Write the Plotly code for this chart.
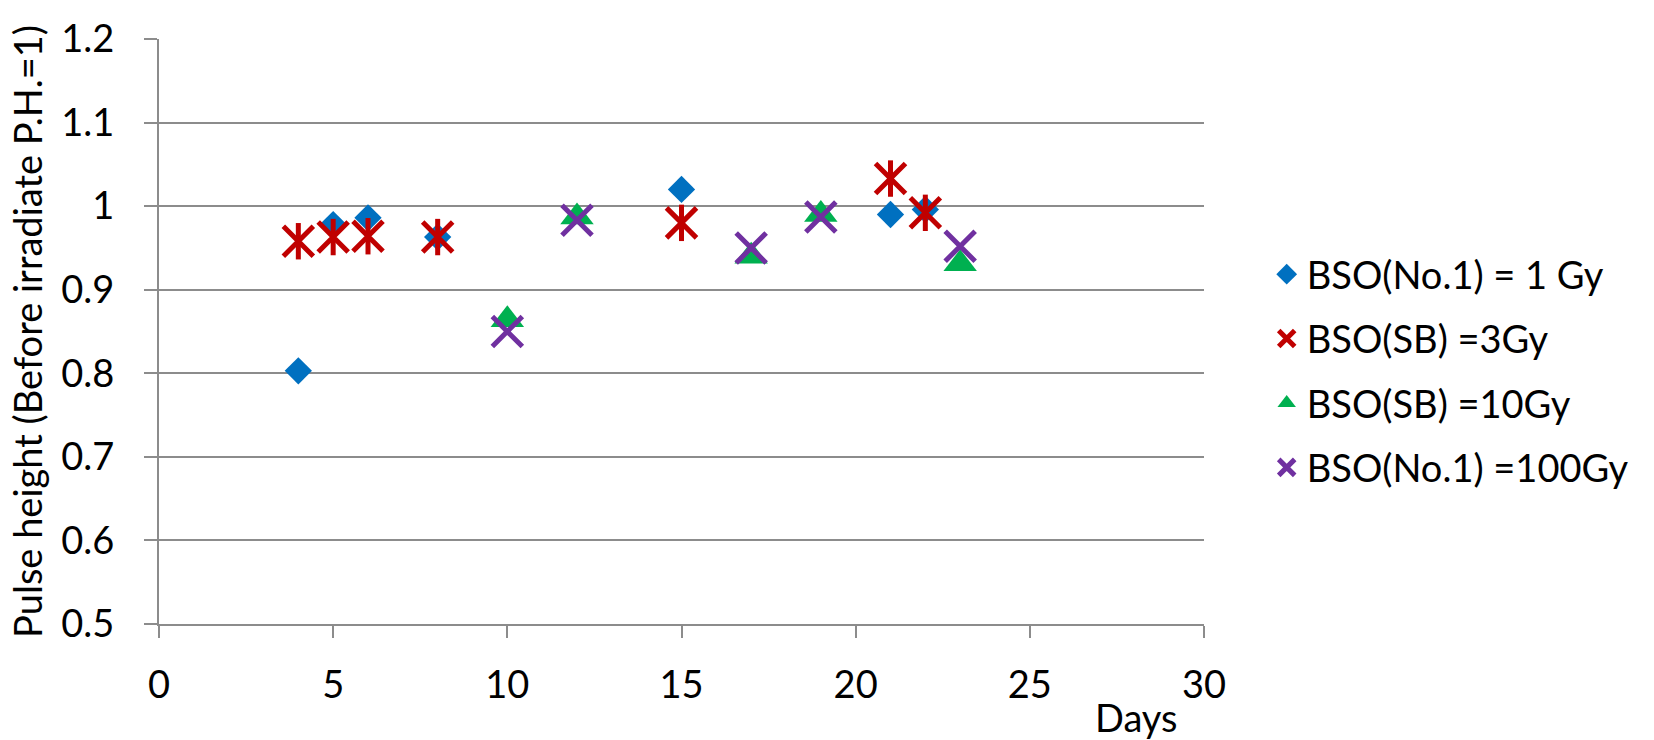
import plotly.graph_objects as go

# Days after irradiation and normalised pulse height for each crystal / dose
days_1gy = [4, 5, 6, 8, 15, 21, 22]
ph_1gy = [0.803, 0.978, 0.986, 0.963, 1.020, 0.990, 0.996]

days_3gy = [4, 5, 6, 8, 15, 21, 22]
ph_3gy = [0.958, 0.963, 0.964, 0.963, 0.980, 1.033, 0.992]

days_10gy = [10, 12, 17, 19, 23]
ph_10gy = [0.864, 0.987, 0.940, 0.990, 0.931]

days_100gy = [10, 12, 17, 19, 23]
ph_100gy = [0.850, 0.983, 0.950, 0.987, 0.952]

names = ["BSO(No.1) = 1 Gy", "BSO(SB) =3Gy", "BSO(SB) =10Gy", "BSO(No.1) =100Gy"]

BLUE = "#0070C0"
RED = "#C00000"
GREEN = "#00B050"
PURPLE = "#7030A0"
GRID = "#8C8C8C"
FONT = "Lato"
FS = 38

fig = go.Figure()

fig.add_trace(go.Scatter(
    x=days_1gy, y=ph_1gy, mode="markers", name=names[0], legendgroup="g1",
    marker=dict(symbol="diamond", size=21, color=BLUE, line=dict(width=0)),
))
# star marker: an X with a vertical bar through it
fig.add_trace(go.Scatter(
    x=days_3gy, y=ph_3gy, mode="markers", name=names[1], legendgroup="g2",
    marker=dict(symbol="x-thin", size=30, color=RED, line=dict(width=5, color=RED)),
))
fig.add_trace(go.Scatter(
    x=days_3gy, y=ph_3gy, mode="markers", name=names[1], legendgroup="g2",
    showlegend=False,
    marker=dict(symbol="line-ns", size=26, color=RED, line=dict(width=5, color=RED)),
))
fig.add_trace(go.Scatter(
    x=days_10gy, y=ph_10gy, mode="markers", name=names[2], legendgroup="g3",
    marker=dict(symbol="triangle-up", size=29, color=GREEN, line=dict(width=0)),
))
fig.add_trace(go.Scatter(
    x=days_100gy, y=ph_100gy, mode="markers", name=names[3], legendgroup="g4",
    marker=dict(symbol="x-thin", size=30, color=PURPLE, line=dict(width=5, color=PURPLE)),
))

fig.update_layout(
    width=1654, height=740,
    margin=dict(l=159, r=450, t=39, b=116, autoexpand=False),
    paper_bgcolor="white", plot_bgcolor="white",
    font=dict(family=FONT, size=FS, color="black"),
    legend=dict(
        x=1.06, xanchor="left", y=0.4325, yanchor="middle",
        traceorder="grouped", tracegroupgap=12,
        font=dict(family=FONT, size=FS, color="black"),
        bgcolor="rgba(0,0,0,0)",
    ),
    xaxis=dict(
        range=[0, 30], dtick=5, tick0=0,
        showgrid=False, zeroline=False,
        showline=True, linecolor=GRID, linewidth=2,
        ticks="outside", ticklen=12, tickwidth=2, tickcolor=GRID,
        ticklabelstandoff=14,
        tickfont=dict(family=FONT, size=FS, color="black"),
    ),
    yaxis=dict(
        range=[0.5, 1.2], dtick=0.1, tick0=0.5, tickformat="~g",
        showgrid=True, gridcolor=GRID, gridwidth=2, zeroline=False,
        showline=True, linecolor=GRID, linewidth=2,
        ticks="outside", ticklen=13, tickwidth=2, tickcolor=GRID,
        ticklabelstandoff=22,
        tickfont=dict(family=FONT, size=FS, color="black"),
        title=dict(text="Pulse height (Before irradiate P.H.=1)", standoff=7,
                   font=dict(family=FONT, size=FS, color="black")),
    ),
    annotations=[dict(
        text="Days", xref="paper", yref="paper", x=0.935, y=-0.159,
        xanchor="center", yanchor="middle", showarrow=False,
        font=dict(family=FONT, size=FS, color="black"),
    )],
)

fig.write_html("out.html")
